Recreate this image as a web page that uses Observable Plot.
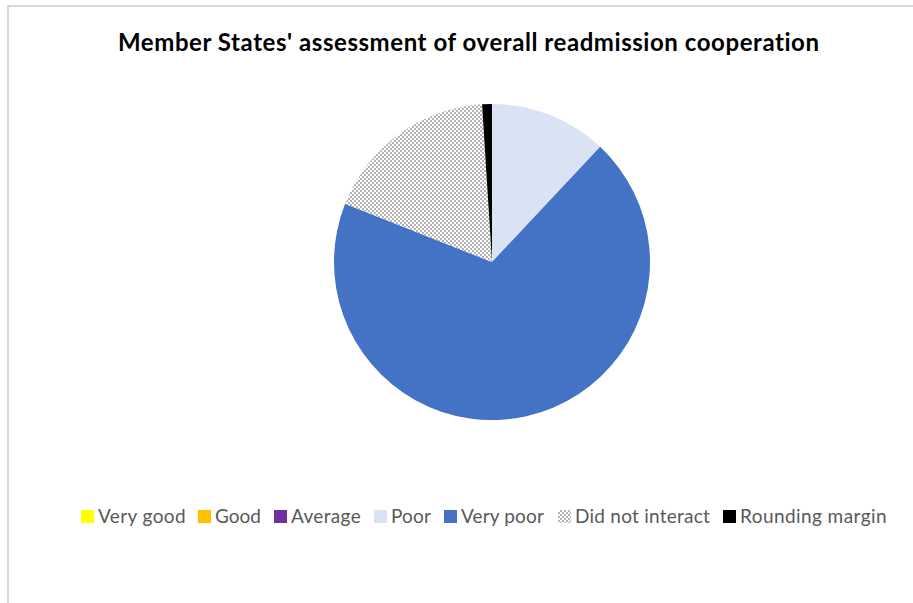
<!DOCTYPE html>
<html>
<head>
<meta charset="utf-8">
<script src="https://cdn.jsdelivr.net/npm/d3@7"></script>
<script src="https://cdn.jsdelivr.net/npm/@observablehq/plot@0.6"></script>
<style>
  html, body { margin: 0; padding: 0; background: #fff; overflow: hidden; width: 913px; height: 603px; }
  #frame { position: absolute; left: 7px; top: 5px; width: 1200px; height: 1000px; border-left: 2px solid #d9d9d9; border-top: 2px solid #d9d9d9; box-sizing: border-box; }
  #title { position: absolute; left: 118px; top: 27px; font-family: Lato, "Open Sans", sans-serif; font-weight: bold; font-size: 24px; color: #000; white-space: nowrap; }
  #chart { position: absolute; left: 0; top: 0; }
  #legend { position: absolute; left: 0; top: 0; font-family: Lato, "Open Sans", sans-serif; font-size: 19px; color: #595959; white-space: nowrap; }
  .item { position: absolute; top: 505px; white-space: nowrap; }
  .sw { position: absolute; left: 0; top: 5px; width: 13px; height: 13px; }
  .lab { position: absolute; white-space: nowrap; line-height: 22px; }
</style>
</head>
<body>
<div id="frame"></div>
<div id="chart"></div>
<div id="title"><span id="ttext">Member States' assessment of overall readmission cooperation</span></div>
<div id="legend"></div>
<script>
const categories = ["Very good", "Good", "Average", "Poor", "Very poor", "Did not interact", "Rounding margin"];
const values = [0, 0, 0, 12, 69, 18, 1];
const colors = ["#ffff00", "#ffc000", "#7030a0", "#dae3f3", "#4472c4", "url(#dotpat)", "#000000"];

const data = categories.map((c, i) => ({category: c, value: values[i]}));

const pieMark = (index, scales, vals, dims, context) => {
  const cx = scales.x(0), cy = scales.y(0);
  const r = Math.abs(scales.x(1) - scales.x(0));
  const arcs = d3.pie().sort(null).value(d => d.value).startAngle(0).endAngle(2 * Math.PI)(data);
  const arc = d3.arc().innerRadius(0).outerRadius(r);
  const g = d3.create("svg:g");
  const defs = g.append("defs");
  const pat = defs.append("pattern").attr("id", "dotpat").attr("patternUnits", "userSpaceOnUse")
    .attr("width", 4).attr("height", 4);
  pat.append("rect").attr("width", 4).attr("height", 4).attr("fill", "#ffffff");
  pat.append("rect").attr("x", 0).attr("y", 0).attr("width", 2).attr("height", 2).attr("fill", "#b4b4b4");
  pat.append("rect").attr("x", 2).attr("y", 2).attr("width", 2).attr("height", 2).attr("fill", "#b4b4b4");
  g.attr("transform", `translate(${cx},${cy})`);
  g.selectAll("path").data(arcs.filter(a => a.data.value > 0)).join("path")
    .attr("d", arc)
    .attr("fill", a => scales.color(a.data.category));
  return g.node();
};

const plot = Plot.plot({
  width: 913,
  height: 480,
  margin: 0,
  x: {domain: [-1, 1], range: [492 - 158, 492 + 158], axis: null},
  y: {domain: [-1, 1], range: [262 + 158, 262 - 158], axis: null},
  color: {type: "ordinal", domain: categories, range: colors},
  marks: [
    Plot.dot([{x: 0, y: 0}], {x: "x", y: "y", r: 0}),
    pieMark
  ]
});
document.getElementById("chart").appendChild(plot);

// title: stretch to the reference width
const tt = document.getElementById("ttext");
const tw = tt.getBoundingClientRect().width;
const tn = tt.textContent.length;
tt.style.letterSpacing = ((702 - tw) / tn) + "px";

// legend layout (swatch left x, label width) — layout only
const legLayout = [[81, 88], [198, 46], [274, 70], [374, 40], [444, 83], [558, 135], [723, 147]];
const legend = document.getElementById("legend");
categories.forEach((c, i) => {
  const it = document.createElement("div");
  it.className = "item";
  it.style.left = legLayout[i][0] + "px";
  const sw = document.createElement("span");
  sw.className = "sw";
  if (c === "Did not interact") {
    sw.style.background = "repeating-conic-gradient(#b4b4b4 0 25%, #ffffff 0 50%) 0 0 / 4px 4px";
  } else {
    sw.style.background = colors[i];
  }
  const lab = document.createElement("span");
  lab.className = "lab";
  lab.style.left = "17px";
  lab.textContent = c;
  it.appendChild(sw);
  it.appendChild(lab);
  legend.appendChild(it);
  const w = lab.getBoundingClientRect().width;
  lab.style.letterSpacing = ((legLayout[i][1] - w) / c.length) + "px";
});
</script>
</body>
</html>
